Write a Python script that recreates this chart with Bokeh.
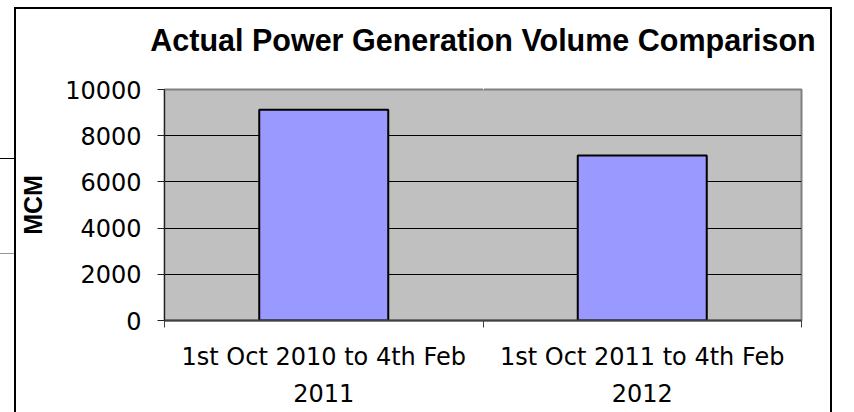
from bokeh.plotting import figure
from bokeh.models import FixedTicker, Range1d, ColumnDataSource, LinearAxis
from bokeh.embed import file_html
from bokeh.resources import INLINE

# ---- data ----
categories = ["1st Oct 2010 to 4th Feb\n2011", "1st Oct 2011 to 4th Feb\n2012"]
values = [9120, 7140]
y_ticks = [0, 2000, 4000, 6000, 8000, 10000]
title_text = "Actual Power Generation Volume Comparison"
y_label = "MCM"

x_pos = [i + 0.5 for i in range(len(categories))]
boundaries = list(range(len(categories) + 1))

src = ColumnDataSource(dict(x=x_pos, top=values, cat=categories))

p = figure(width=814, height=403, output_backend="svg", toolbar_location=None,
           x_range=Range1d(0, len(categories)), y_range=Range1d(y_ticks[0], y_ticks[-1]),
           min_border_left=144, min_border_right=29, min_border_top=80, min_border_bottom=92)

# page body has no margin: place the chart box like the reference
p.margin = (9, 0, 0, 16)
p.styles = {"box-shadow": "-2px 0 0 0 black, 2px 0 0 0 black, 0 -2px 0 0 black, "
                          "-2px -2px 0 0 black, 2px -2px 0 0 black, "
                          "-217px -52px 0 -201px black, -217px 43px 0 -201px #999999"}

p.background_fill_color = "#C0C0C0"
p.border_fill_color = "white"
p.outline_line_color = "#808080"
p.outline_line_width = 2

p.vbar(x="x", top="top", width=0.405, source=src,
       fill_color="#9999FF", line_color="black", line_width=2)

# blank spacer band between the plot area and the title
mid = len(categories) / 2
spacer = LinearAxis(ticker=FixedTicker(ticks=[mid], minor_ticks=[]), axis_line_color=None,
                    major_tick_line_color="white", minor_tick_line_color=None,
                    major_tick_in=0, major_tick_out=23, minor_tick_in=0, minor_tick_out=0,
                    major_label_standoff=0, major_label_text_font_size="1px",
                    major_label_text_color="white", major_label_overrides={mid: ""})
p.add_layout(spacer, "above")

# title
p.title.text = title_text
p.title.align = "center"
p.title.text_font = "Liberation Sans"
p.title.text_font_style = "bold"
p.title.text_font_size = "30.5px"
p.title.text_color = "black"
p.title.standoff = 20

# y axis
p.yaxis.ticker = FixedTicker(ticks=y_ticks)
p.ygrid.ticker = FixedTicker(ticks=y_ticks)
p.ygrid.grid_line_color = "black"
p.ygrid.grid_line_width = 1
p.yaxis.axis_label = y_label
p.yaxis.axis_label_text_font = "Liberation Sans"
p.yaxis.axis_label_text_font_style = "bold"
p.yaxis.axis_label_text_font_size = "25px"
p.yaxis.axis_label_text_color = "black"
p.yaxis.axis_label_standoff = 15
p.yaxis.major_label_text_font = "DejaVu Sans"
p.yaxis.major_label_text_font_size = "24px"
p.yaxis.major_label_text_color = "black"
p.yaxis.major_label_standoff = 16
p.yaxis.major_tick_in = 0
p.yaxis.major_tick_out = 7
p.yaxis.major_tick_line_color = "#202020"
p.yaxis.minor_tick_line_color = None
p.yaxis.axis_line_color = "#202020"

# x axis
xaxis = p.below[0]
p.xgrid.visible = False
xaxis.ticker = FixedTicker(ticks=x_pos, minor_ticks=boundaries)
xaxis.major_label_overrides = {x: c for x, c in zip(x_pos, categories)}
xaxis.major_label_text_font = "DejaVu Sans"
xaxis.major_label_text_font_size = "24px"
xaxis.major_label_text_color = "black"
xaxis.major_label_text_line_height = 1.35
xaxis.major_label_standoff = 15
xaxis.major_tick_line_color = None
xaxis.minor_tick_in = 0
xaxis.minor_tick_out = 7
xaxis.minor_tick_line_color = "#404040"
xaxis.axis_line_color = "#404040"
xaxis.axis_line_width = 2

open("out.html", "w").write(file_html(p, INLINE))
